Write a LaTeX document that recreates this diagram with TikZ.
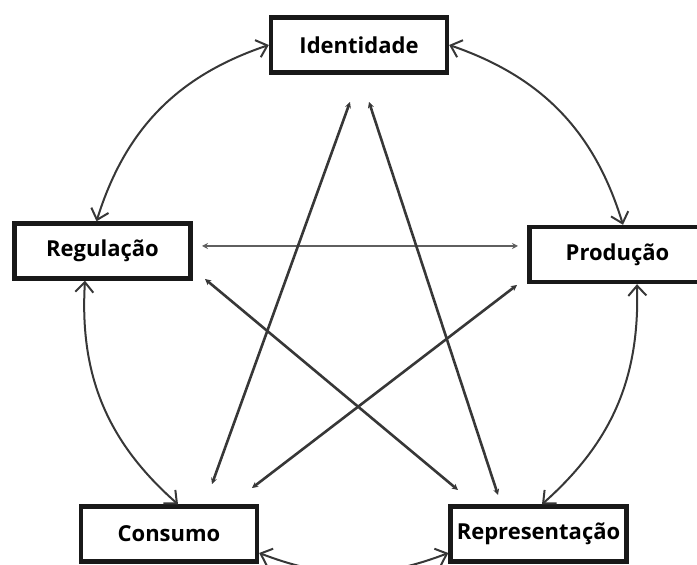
\documentclass[tikz,border=0pt]{standalone}
\usepackage{fontspec}
\setmainfont{Open Sans}
\usetikzlibrary{arrows.meta}
\tikzstyle{canvas} = [x = .5pt, y = -.5pt]
\definecolor{lineColor}{RGB}{55,55,55}
\definecolor{thinColor}{RGB}{95,95,95}
\tikzstyle{boxStyle} = [draw=black!90, line width=2.2pt, fill=white, minimum width=88pt, minimum height=27.5pt, inner sep=0pt, font=\bfseries\fontsize{11}{13}\selectfont]
\tikzstyle{arcStyle} = [lineColor, line width=1pt, {Straight Barb[length=5pt,width=9pt]}-{Straight Barb[length=5pt,width=9pt]}]
\tikzstyle{crossStyle} = [lineColor, line width=1.3pt, {Stealth[length=3pt,width=3pt]}-{Stealth[length=3pt,width=3pt]}]
\tikzstyle{middleStyle} = [thinColor, line width=.7pt, {Stealth[length=3pt,width=3pt]}-{Stealth[length=3pt,width=3pt]}]
\newcommand{\conceptBox}[3]{\node [boxStyle] (#1) at (#2) {#3};}
\begin{document}
\begin{tikzpicture}[canvas]
          \useasboundingbox (0,0) rectangle (697,565);

          % the five boxes
          \conceptBox{identidade}{359,45}{Identidade}
          \conceptBox{regulacao}{102.5,251}{Regulação}
          \conceptBox{producao}{617.5,254.5}{Produção}
          \conceptBox{consumo}{169,534}{Consumo}
          \conceptBox{representacao}{538.5,534}{Representação}

          % free ends of the inner lines
          \coordinate (regRight) at (202,246);
          \coordinate (prodLeft) at (518,246);
          \coordinate (regLow) at (205,279);
          \coordinate (prodLow) at (517,285);
          \coordinate (identLeft) at (350,102);
          \coordinate (identRight) at (369,102);
          \coordinate (consA) at (212,484);
          \coordinate (consB) at (252,488);
          \coordinate (repA) at (458,490);
          \coordinate (repB) at (498,495);

          % outer ring
          \draw [arcStyle] (identidade.west) to [bend right=27] ([xshift=-3pt]regulacao.north);
          \draw [arcStyle] (identidade.east) to [bend left=27] ([xshift=2.75pt]producao.north);
          \draw [arcStyle] ([xshift=-8.75pt]regulacao.south) to [bend right=26] ([xshift=4.5pt]consumo.north);
          \draw [arcStyle] ([xshift=9.75pt]producao.south) to [bend left=25] ([xshift=1.75pt]representacao.north);
          \draw [arcStyle] ([yshift=-9.5pt]consumo.east) to [bend right=21] ([yshift=-9.5pt]representacao.west);

          % inner lines
          \draw [middleStyle] (regRight) -- (prodLeft);
          \draw [crossStyle] (regLow) -- (repA);
          \draw [crossStyle] (prodLow) -- (consB);
          \draw [crossStyle] (identLeft) -- (consA);
          \draw [crossStyle] (identRight) -- (repB);
        \end{tikzpicture}
\end{document}
